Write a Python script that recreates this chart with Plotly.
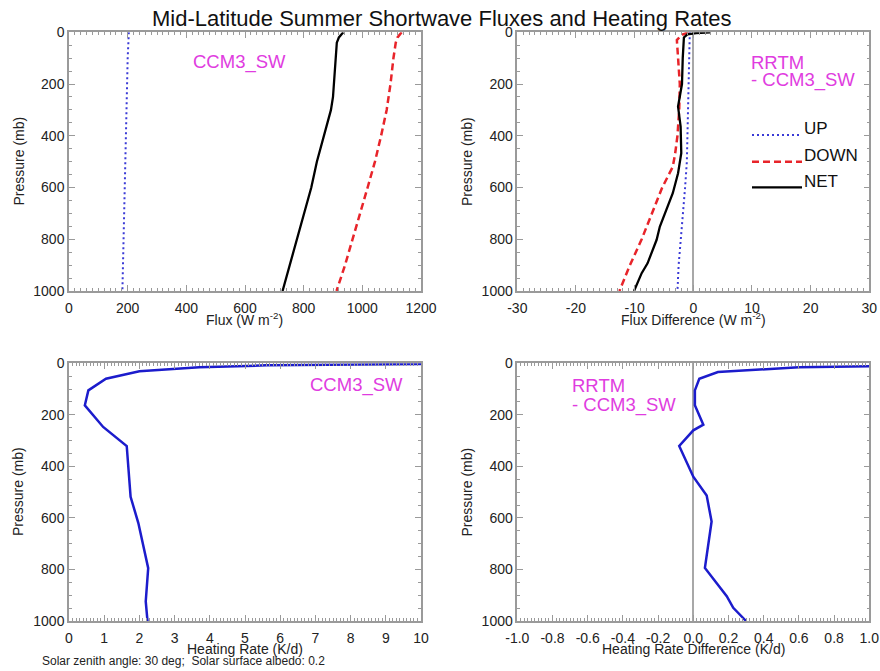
import plotly.graph_objects as go

# ---------------- data ----------------
# Top-left: CCM3_SW fluxes (W m-2) vs pressure (mb)
p_flux = [0, 20, 40, 100, 200, 250, 300, 400, 500, 600, 700, 800, 900, 1000]
flux_up = [204, 203, 202, 200, 198, 197, 196, 194, 192, 190, 188, 186, 184, 182]
flux_down = [1134, 1120, 1114, 1106, 1096, 1090, 1083, 1064, 1043, 1018, 993, 967, 941, 912]
flux_net = [935, 920, 913, 909, 903, 900, 893, 868, 845, 826, 802, 778, 753, 728]

# Top-right: RRTM - CCM3_SW flux differences
p_dup = [0, 100, 200, 300, 400, 500, 600, 700, 800, 900, 1000]
diff_up = [-0.6, -0.7, -0.75, -0.85, -0.95, -1.1, -1.4, -1.8, -2.2, -2.5, -2.7]
p_ddown = [0, 10, 30, 100, 200, 300, 400, 470, 520, 600, 700, 800, 900, 1000]
diff_down = [-0.8, -2.0, -2.8, -2.6, -2.3, -2.4, -2.7, -3.1, -3.5, -5.3, -7.1, -8.8, -10.8, -12.6]
p_dnet = [0, 3, 8, 20, 100, 200, 287, 364, 467, 545, 622, 700, 751, 802, 893, 931, 1000]
diff_net = [2.9, 0.5, -1.0, -1.6, -1.8, -1.93, -2.6, -2.16, -2.05, -2.6, -3.5, -4.8, -5.7, -6.25, -7.8, -8.8, -10.1]

# Bottom-left: CCM3_SW heating rate (K/d)
p_hr = [2, 8, 15, 31, 60, 105, 163, 247, 321, 518, 620, 795, 924, 1000]
hr = [10.5, 5.6, 3.7, 2.0, 1.05, 0.55, 0.45, 0.97, 1.64, 1.75, 1.97, 2.25, 2.18, 2.23]

# Bottom-right: RRTM - CCM3_SW heating rate difference (K/d)
p_hrd = [8, 15, 34, 60, 105, 163, 238, 260, 321, 440, 513, 614, 794, 904, 949, 1000]
hr_diff = [1.3, 0.6, 0.14, 0.034, 0.009, 0.009, 0.057, 0.0, -0.08, 0.0, 0.076, 0.104, 0.066, 0.19, 0.227, 0.30]

legend_names = ["UP", "DOWN", "NET"]

# tick labels (ASCII hyphen minus as in the original)
flux_diff_ticks = [-30, -20, -10, 0, 10, 20, 30]
flux_diff_labels = ["-30", "-20", "-10", "0", "10", "20", "30"]
hr_diff_ticks = [-1.0, -0.8, -0.6, -0.4, -0.2, 0.0, 0.2, 0.4, 0.6, 0.8, 1.0]
hr_diff_labels = ["-1.0", "-0.8", "-0.6", "-0.4", "-0.2", "0.0", "0.2", "0.4", "0.6", "0.8", "1.0"]

# ---------------- style ----------------
FONT = "Liberation Sans, Arial, Helvetica, sans-serif"
MAG = "#e03ce0"
BLUE_DOT = "#3a3ad6"
RED = "#e8242a"
BLUE_HR = "#1c1ccc"
FRAME = "#9a9a9a"

W, H = 880, 671


def px_x(x):
    return x / W


def px_y(y):
    return 1 - y / H


col_dom = [[px_x(69), px_x(421)], [px_x(517.3), px_x(869.3)]]
row_dom = [[px_y(291), px_y(32.3)], [px_y(621), px_y(363.3)]]

fig = go.Figure()

# Top-left
fig.add_trace(go.Scatter(x=flux_up, y=p_flux, mode="lines", xaxis="x", yaxis="y",
                         line=dict(color=BLUE_DOT, width=2, dash="2px,3px"), showlegend=False))
fig.add_trace(go.Scatter(x=flux_down, y=p_flux, mode="lines", xaxis="x", yaxis="y",
                         line=dict(color=RED, width=2.5, dash="7px,4px"), showlegend=False))
fig.add_trace(go.Scatter(x=flux_net, y=p_flux, mode="lines", xaxis="x", yaxis="y",
                         line=dict(color="black", width=2.3), showlegend=False))
# Top-right
fig.add_trace(go.Scatter(x=diff_up, y=p_dup, mode="lines", xaxis="x2", yaxis="y2",
                         line=dict(color=BLUE_DOT, width=2, dash="2px,3px"), showlegend=False))
fig.add_trace(go.Scatter(x=diff_down, y=p_ddown, mode="lines", xaxis="x2", yaxis="y2",
                         line=dict(color=RED, width=2.5, dash="7px,4px"), showlegend=False))
fig.add_trace(go.Scatter(x=diff_net, y=p_dnet, mode="lines", xaxis="x2", yaxis="y2",
                         line=dict(color="black", width=2.3), showlegend=False))
# Bottom-left
fig.add_trace(go.Scatter(x=hr, y=p_hr, mode="lines", xaxis="x3", yaxis="y3",
                         line=dict(color=BLUE_HR, width=2.5), showlegend=False))
# Bottom-right
fig.add_trace(go.Scatter(x=hr_diff, y=p_hrd, mode="lines", xaxis="x4", yaxis="y4",
                         line=dict(color=BLUE_HR, width=2.5), showlegend=False))


def xax(dom, rng, dtick, minor, anchor, zero=False, tickvals=None, ticktext=None):
    d = dict(domain=dom, range=rng, autorange=False, dtick=dtick, tick0=rng[0], anchor=anchor,
             showline=True, linecolor=FRAME, linewidth=1.5, mirror="allticks",
             ticks="inside", ticklen=6, tickcolor=FRAME, tickwidth=1,
             minor=dict(ticks="inside", ticklen=3, dtick=minor, tick0=rng[0],
                        tickcolor=FRAME, tickwidth=1),
             showgrid=False, zeroline=zero, zerolinecolor="#a8a8a8", zerolinewidth=2,
             tickfont=dict(family=FONT, size=14, color="#222"), ticklabelstandoff=3,
             automargin=False, fixedrange=True)
    if tickvals is not None:
        d["tickmode"] = "array"
        d["tickvals"] = tickvals
        d["ticktext"] = ticktext
    return d


def yax(dom, anchor):
    return dict(domain=dom, range=[1000, 0], autorange=False, dtick=200, tick0=0, anchor=anchor,
                showline=True, linecolor=FRAME, linewidth=1.5, mirror="allticks",
                ticks="inside", ticklen=6, tickcolor=FRAME, tickwidth=1,
                minor=dict(ticks="inside", ticklen=3, dtick=50, tickcolor=FRAME, tickwidth=1),
                showgrid=False, zeroline=False,
                tickfont=dict(family=FONT, size=14, color="#222"),
                automargin=False, fixedrange=True)


fig.update_layout(
    width=W, height=H,
    margin=dict(l=0, r=0, t=0, b=0),
    paper_bgcolor="white", plot_bgcolor="white",
    showlegend=False,
    font=dict(family=FONT, color="#222"),
    xaxis=xax(col_dom[0], [0, 1200], 200, 20, "y"),
    yaxis=yax(row_dom[0], "x"),
    xaxis2=xax(col_dom[1], [-30, 30], 10, 1, "y2", zero=True,
               tickvals=flux_diff_ticks, ticktext=flux_diff_labels),
    yaxis2=yax(row_dom[0], "x2"),
    xaxis3=xax(col_dom[0], [0, 10], 1, 0.1, "y3"),
    yaxis3=yax(row_dom[1], "x3"),
    xaxis4=xax(col_dom[1], [-1, 1], 0.2, 0.02, "y4", zero=True,
               tickvals=hr_diff_ticks, ticktext=hr_diff_labels),
    yaxis4=yax(row_dom[1], "x4"),
)

ann = []


def text(x, y, s, size=14, color="#222", xanchor="center", yanchor="middle", angle=0):
    ann.append(dict(x=px_x(x), y=px_y(y), xref="paper", yref="paper", text=s, showarrow=False,
                    xanchor=xanchor, yanchor=yanchor, textangle=angle,
                    font=dict(family=FONT, size=size, color=color)))


# title
text(442, 18, "Mid-Latitude Summer Shortwave Fluxes and Heating Rates", size=22, color="#111")
# axis titles
text(245, 319, "Flux (W m<sup>-2</sup>)")
text(693, 319, "Flux Difference (W m<sup>-2</sup>)")
text(245, 649, "Heating Rate (K/d)")
text(693, 649, "Heating Rate Difference (K/d)")
for xx, yy in [(18, 161.5), (466.5, 161.5), (18, 492), (466.5, 492)]:
    text(xx, yy, "Pressure (mb)", angle=-90)
# footnote
text(40, 661, "Solar zenith angle: 30 deg;  Solar surface albedo: 0.2", size=12,
     xanchor="left")
# magenta panel labels
text(239.5, 62, "CCM3_SW", size=18.5, color=MAG)
text(749, 62, "RRTM", size=18.5, color=MAG, xanchor="left")
text(749, 80, "- CCM3_SW", size=18.5, color=MAG, xanchor="left")
text(356, 385, "CCM3_SW", size=18.5, color=MAG)
text(570, 385, "RRTM", size=18.5, color=MAG, xanchor="left")
text(570, 405, "- CCM3_SW", size=18.5, color=MAG, xanchor="left")

# legend in top-right panel
leg_styles = [dict(color=BLUE_DOT, width=2, dash="2px,3px"),
              dict(color=RED, width=2.5, dash="7px,4px"),
              dict(color="black", width=2.3)]
leg_y = [135, 161.7, 187.3]
shapes = []
for name, st, yy in zip(legend_names, leg_styles, leg_y):
    shapes.append(dict(type="line", xref="paper", yref="paper",
                       x0=px_x(752), x1=px_x(802), y0=px_y(yy), y1=px_y(yy), line=st))
    text(802, yy - 6, name, size=17, color="#111", xanchor="left")

fig.update_layout(annotations=ann, shapes=shapes)

fig.write_html("out.html", config={"displayModeBar": False},
               post_script="document.body.style.margin='0';")
